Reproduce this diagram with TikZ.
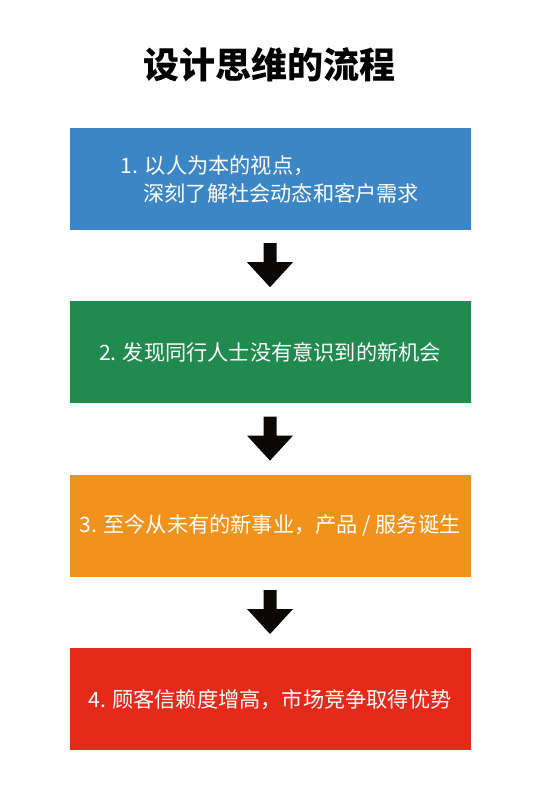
\documentclass[tikz,border=0pt]{standalone}
\usepackage{fontspec}
\setmainfont{Noto Sans CJK SC}
\usetikzlibrary{positioning,calc}
\definecolor{stepblue}{HTML}{3D86C6}
\definecolor{stepgreen}{HTML}{218A4F}
\definecolor{steporange}{HTML}{F0921C}
\definecolor{stepred}{HTML}{E52A1A}
\definecolor{arrowblack}{HTML}{0A0707}
\begin{document}
\begin{tikzpicture}[x=1pt,y=-1pt,node distance=71pt]
\tikzstyle{stepbox}=[rectangle,minimum width=401pt,minimum height=102pt,inner sep=0pt,
  text=white,align=left,font=\fontsize{21.2}{28}\selectfont]
\tikzstyle{title}=[inner sep=0pt,font=\fontsize{36}{40}\selectfont\bfseries]
\useasboundingbox (0,0) rectangle (540,800);
\node[title] (Title) at (269,65) {设计思维的流程};
\node[stepbox,fill=stepblue] (S1) at (270,179) {1. 以人为本的视点，\\\hphantom{1.\ }深刻了解社会动态和客户需求};
\node[stepbox,fill=stepgreen,below=of S1] (S2) {2. 发现同行人士没有意识到的新机会};
\node[stepbox,fill=steporange,below=of S2] (S3) {3. 至今从未有的新事业，产品 / 服务诞生};
\node[stepbox,fill=stepred,below=of S3] (S4) {4. 顾客信赖度增高，市场竞争取得优势};
% block arrows between the steps
\foreach \a/\b in {S1/S2,S2/S3,S3/S4}
  \fill[arrowblack] ($(\a.south)+(-6.5,13)$) -- ++(13,0) -- ++(0,19) -- ++(16.5,0)
    -- ($(\b.north)+(0,-14)$) -- ($(\a.south)+(-23,32)$) -- ++(16.5,0) -- cycle;
\end{tikzpicture}
\end{document}
